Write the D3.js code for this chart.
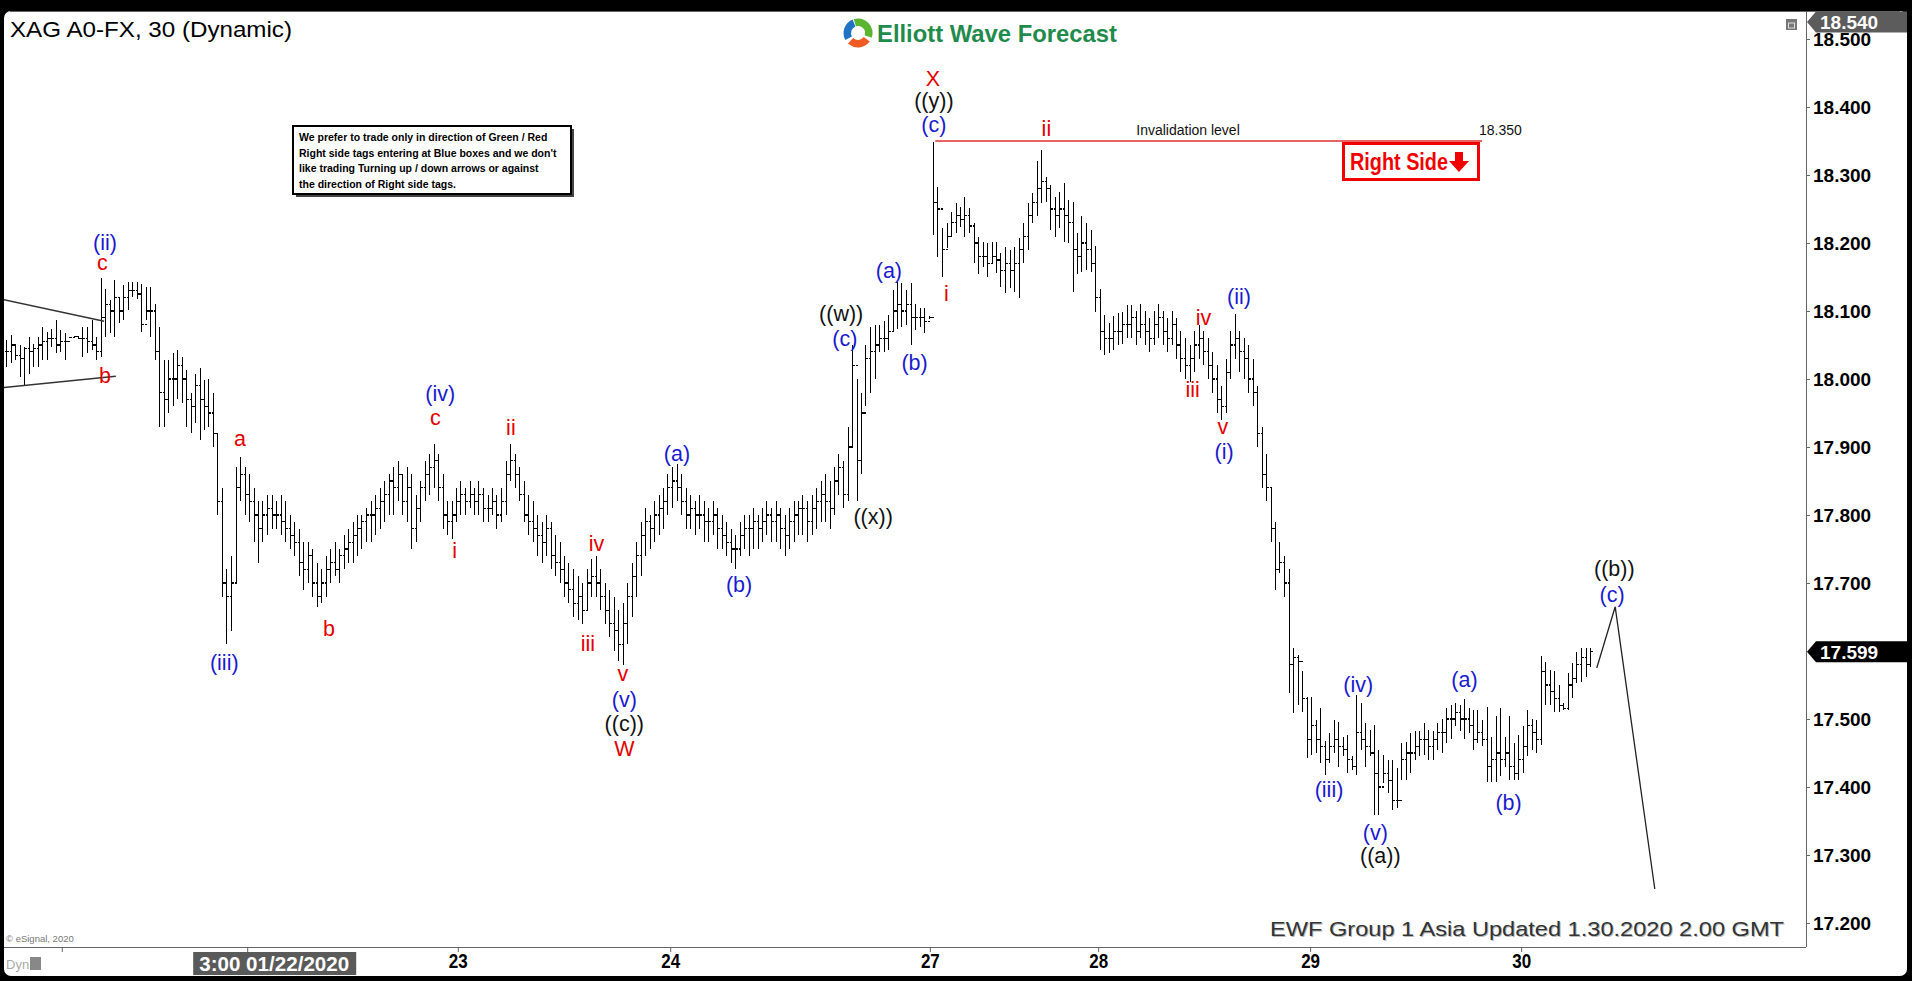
<!DOCTYPE html>
<html><head><meta charset="utf-8">
<script src="https://cdn.jsdelivr.net/npm/d3@7"></script>
<style>
html,body{margin:0;padding:0;background:#000;overflow:hidden}
svg{display:block}
text{font-family:"Liberation Sans",Arial,sans-serif}
</style></head><body>
<svg id="chart" width="1912" height="981"></svg>
<script>
// ---------------- DATA ----------------
const title = "XAG A0-FX, 30 (Dynamic)";
const footer = "EWF Group 1 Asia Updated 1.30.2020 2.00 GMT";
const noteLines = ["We prefer to trade only in direction of Green / Red",
  "Right side tags entering at Blue boxes and we don't",
  "like trading Turning up / down arrows or against",
  " the direction of Right side tags."];
// 17.600 sits under the last-price tag and is not shown
const priceTicks = [17.2,17.3,17.4,17.5,17.7,17.8,17.9,18.0,18.1,18.2,18.3,18.4,18.5];
const dayTickIdx = [12.4, 53.6, 100.4, 147.6, 205.3, 242.7, 289.8, 336.7];
const dayTickLabels = ["", "", "23", "24", "27", "28", "29", "30"];
const cursorLabel = "3:00 01/22/2020";
const lastPrice = 17.599;
const topPrice = 18.540;
const invalidation = 18.350;

const highs = [
18.057,18.064,18.052,18.050,18.047,18.062,18.052,18.062,18.077,18.069,
18.074,18.087,18.072,18.067,18.062,18.063,18.063,18.077,18.077,18.087,
18.062,18.148,18.133,18.116,18.145,18.121,18.138,18.143,18.143,18.143,
18.140,18.136,18.136,18.111,18.077,18.028,18.028,18.038,18.043,18.033,
18.013,17.979,18.008,18.016,17.998,18.000,17.98,17.92,17.84,17.72,
17.74,17.87,17.885,17.87,17.86,17.84,17.82,17.82,17.83,17.83,
17.82,17.83,17.82,17.80,17.79,17.78,17.76,17.76,17.75,17.73,
17.72,17.74,17.75,17.76,17.75,17.77,17.78,17.79,17.80,17.80,
17.81,17.82,17.83,17.84,17.85,17.86,17.87,17.88,17.86,17.87,
17.86,17.83,17.85,17.88,17.89,17.905,17.89,17.86,17.82,17.82,
17.84,17.85,17.84,17.85,17.84,17.85,17.84,17.83,17.84,17.83,
17.84,17.88,17.905,17.89,17.87,17.85,17.83,17.82,17.80,17.79,
17.80,17.79,17.77,17.76,17.74,17.73,17.72,17.71,17.70,17.72,
17.735,17.74,17.72,17.70,17.69,17.68,17.66,17.67,17.70,17.73,
17.76,17.79,17.81,17.80,17.82,17.83,17.84,17.86,17.87,17.875,
17.86,17.84,17.83,17.82,17.83,17.82,17.81,17.82,17.81,17.80,
17.79,17.78,17.77,17.79,17.80,17.80,17.81,17.80,17.81,17.82,
17.81,17.82,17.81,17.80,17.81,17.82,17.82,17.83,17.82,17.83,
17.84,17.85,17.86,17.85,17.87,17.89,17.88,17.93,18.05,18.00,
17.98,18.05,18.077,18.08,18.08,18.085,18.094,18.131,18.143,18.141,
18.131,18.141,18.111,18.104,18.104,18.092,18.349,18.283,18.222,18.229,
18.246,18.259,18.253,18.268,18.251,18.229,18.209,18.202,18.20,18.202,
18.202,18.185,18.194,18.19,18.194,18.207,18.229,18.259,18.273,18.32,
18.337,18.297,18.285,18.268,18.275,18.288,18.263,18.261,18.215,18.239,
18.229,18.219,18.195,18.133,18.094,18.082,18.092,18.097,18.099,18.109,
18.109,18.10,18.11,18.10,18.09,18.10,18.11,18.10,18.09,18.10,
18.09,18.07,18.06,18.05,18.07,18.08,18.07,18.06,18.04,18.02,
17.99,18.03,18.07,18.095,18.07,18.06,18.05,18.03,17.99,17.93,
17.89,17.84,17.79,17.76,17.74,17.72,17.604,17.594,17.57,17.533,
17.533,17.499,17.516,17.467,17.479,17.499,17.496,17.474,17.477,17.445,
17.535,17.523,17.494,17.484,17.491,17.455,17.447,17.44,17.44,17.428,
17.464,17.466,17.479,17.482,17.482,17.494,17.484,17.482,17.494,17.50,
17.516,17.521,17.523,17.521,17.53,17.516,17.513,17.513,17.499,17.518,
17.474,17.504,17.516,17.474,17.504,17.465,17.477,17.489,17.513,17.50,
17.499,17.592,17.584,17.572,17.57,17.55,17.523,17.567,17.582,17.599,
17.604,17.604,17.604];
const lows = [
18.018,18.023,18.028,18.003,17.989,18.008,18.018,18.018,18.028,18.028,
18.047,18.038,18.040,18.028,18.060,18.061,18.059,18.033,18.038,18.042,
18.028,18.033,18.062,18.067,18.062,18.082,18.087,18.101,18.121,18.118,
18.069,18.087,18.062,18.028,17.930,17.930,17.950,17.960,17.970,17.965,
17.930,17.920,17.935,17.910,17.925,17.930,17.90,17.80,17.68,17.61,
17.63,17.70,17.82,17.80,17.79,17.76,17.73,17.76,17.77,17.78,
17.78,17.77,17.76,17.75,17.74,17.71,17.69,17.70,17.68,17.665,
17.67,17.68,17.70,17.71,17.70,17.72,17.73,17.73,17.74,17.75,
17.76,17.76,17.77,17.78,17.79,17.80,17.80,17.82,17.80,17.79,
17.75,17.76,17.79,17.82,17.83,17.84,17.82,17.78,17.77,17.765,
17.79,17.80,17.80,17.81,17.80,17.80,17.79,17.79,17.80,17.78,
17.79,17.80,17.85,17.84,17.82,17.79,17.77,17.76,17.74,17.73,
17.74,17.72,17.71,17.70,17.68,17.67,17.65,17.645,17.64,17.66,
17.68,17.68,17.66,17.64,17.62,17.60,17.585,17.58,17.61,17.65,
17.68,17.71,17.74,17.75,17.76,17.77,17.78,17.80,17.81,17.82,
17.80,17.78,17.78,17.77,17.78,17.76,17.76,17.77,17.75,17.75,
17.74,17.73,17.72,17.74,17.75,17.74,17.75,17.75,17.76,17.77,
17.76,17.76,17.75,17.74,17.75,17.76,17.77,17.77,17.76,17.77,
17.78,17.79,17.79,17.78,17.80,17.83,17.81,17.82,17.90,17.82,
17.86,17.96,17.98,18.00,18.04,18.04,18.043,18.07,18.074,18.077,
18.08,18.05,18.072,18.077,18.067,18.088,18.212,18.180,18.150,18.193,
18.209,18.215,18.224,18.209,18.214,18.171,18.155,18.165,18.15,18.17,
18.156,18.136,18.126,18.134,18.128,18.119,18.171,18.190,18.229,18.239,
18.259,18.261,18.219,18.209,18.222,18.202,18.20,18.128,18.155,18.158,
18.16,18.158,18.099,18.043,18.035,18.038,18.043,18.05,18.052,18.06,
18.06,18.05,18.06,18.05,18.04,18.05,18.06,18.05,18.04,18.05,
18.03,18.01,18.00,17.995,18.01,18.03,18.02,18.00,17.98,17.95,
17.94,17.95,18.00,18.03,18.01,18.00,17.98,17.96,17.90,17.84,
17.82,17.76,17.69,17.715,17.68,17.538,17.509,17.52,17.51,17.443,
17.447,17.45,17.435,17.418,17.435,17.45,17.43,17.445,17.421,17.425,
17.418,17.455,17.43,17.445,17.359,17.359,17.406,17.391,17.366,17.369,
17.411,17.411,17.421,17.44,17.445,17.447,17.44,17.44,17.455,17.45,
17.465,17.47,17.489,17.482,17.47,17.48,17.455,17.465,17.46,17.408,
17.408,17.408,17.416,17.43,17.411,17.411,17.411,17.421,17.445,17.455,
17.45,17.462,17.521,17.521,17.511,17.511,17.513,17.513,17.531,17.553,
17.555,17.562,17.577];
const closes = [
18.04,18.05,18.035,18.03,18.045,18.04,18.045,18.05,18.055,18.06,
18.06,18.05,18.055,18.055,18.061,18.062,18.06,18.06,18.055,18.05,
18.04,18.09,18.11,18.10,18.12,18.10,18.12,18.13,18.13,18.125,
18.08,18.10,18.10,18.04,17.98,17.97,18.00,18.00,18.02,18.00,
17.97,17.96,17.99,17.97,17.96,17.95,17.92,17.82,17.70,17.68,
17.70,17.84,17.86,17.83,17.82,17.80,17.78,17.80,17.81,17.80,
17.80,17.79,17.78,17.77,17.76,17.73,17.72,17.74,17.70,17.68,
17.70,17.72,17.73,17.72,17.74,17.75,17.76,17.77,17.78,17.79,
17.80,17.80,17.81,17.82,17.83,17.85,17.84,17.86,17.82,17.84,
17.78,17.81,17.84,17.86,17.87,17.88,17.84,17.80,17.79,17.80,
17.82,17.83,17.82,17.83,17.82,17.83,17.81,17.81,17.82,17.80,
17.82,17.86,17.88,17.86,17.83,17.80,17.79,17.78,17.77,17.76,
17.78,17.74,17.73,17.72,17.70,17.69,17.67,17.68,17.66,17.70,
17.71,17.70,17.68,17.66,17.64,17.63,17.61,17.64,17.68,17.71,
17.74,17.77,17.79,17.78,17.80,17.81,17.82,17.84,17.85,17.84,
17.82,17.80,17.81,17.80,17.80,17.79,17.79,17.80,17.78,17.77,
17.76,17.75,17.75,17.77,17.78,17.78,17.79,17.78,17.79,17.80,
17.79,17.80,17.78,17.77,17.79,17.80,17.81,17.81,17.79,17.81,
17.82,17.83,17.82,17.81,17.85,17.87,17.83,17.90,18.02,17.88,
17.95,18.03,18.04,18.05,18.06,18.06,18.07,18.10,18.11,18.10,
18.11,18.09,18.09,18.09,18.085,18.09,18.26,18.25,18.19,18.21,
18.23,18.24,18.235,18.24,18.225,18.20,18.18,18.18,18.17,18.18,
18.175,18.16,18.17,18.16,18.17,18.19,18.21,18.24,18.26,18.28,
18.29,18.28,18.25,18.24,18.25,18.24,18.23,18.19,18.18,18.20,
18.19,18.17,18.12,18.07,18.06,18.06,18.07,18.07,18.08,18.08,
18.09,18.07,18.08,18.07,18.06,18.08,18.09,18.07,18.06,18.08,
18.05,18.03,18.02,18.03,18.05,18.06,18.04,18.02,18.00,17.97,
17.96,18.01,18.05,18.06,18.04,18.03,18.00,17.98,17.92,17.86,
17.84,17.78,17.72,17.73,17.70,17.58,17.59,17.585,17.53,17.47,
17.49,17.47,17.46,17.44,17.46,17.47,17.46,17.455,17.44,17.43,
17.48,17.47,17.46,17.45,17.42,17.40,17.42,17.41,17.38,17.38,
17.44,17.45,17.45,17.46,17.47,17.47,17.46,17.47,17.48,17.48,
17.50,17.50,17.51,17.50,17.50,17.49,17.47,17.48,17.47,17.43,
17.44,17.45,17.44,17.45,17.43,17.42,17.44,17.46,17.49,17.48,
17.47,17.57,17.55,17.54,17.53,17.52,17.515,17.55,17.56,17.58,
17.59,17.58,17.599];

// projection path (bar index, price)
const projIdx = [353.5, 357.6, 366.4];
const projPrice = [17.575, 17.665, 17.25];

// triangle trend lines (bar index, price)
const trendLines = [
  {i0:-1.4, p0:18.118, i1:21.8, p1:18.085},
  {i0:-1.4, p0:17.987, i1:24.4, p1:18.004}
];
const invalidFromIdx = 206.5, invalidToIdx = 328;

// wave labels: text, colour key, bar index, price
const waveText  = ["(ii)","c","b","a","(iii)","b","(iv)","c","i","ii","iv","iii","v","(v)","((c))","W",
  "(a)","(b)","((w))","(c)","((x))","(a)","(b)","X","((y))","(c)","i","ii","iv","iii","v","(i)","(ii)",
  "(iii)","(iv)","(v)","((a))","(a)","(b)","((b))","(c)"];
const waveColor = ["B","R","R","R","B","R","B","R","R","R","R","R","R","B","K","R",
  "B","B","K","B","K","B","B","R","K","B","R","R","R","R","R","B","B",
  "B","B","B","K","B","B","K","B"];
const waveIdx   = [21.98,21.4,22,52,48.5,71.8,96.5,95.4,99.7,112.2,131.2,129.3,137.1,137.4,137.4,137.4,
  149.1,162.9,185.6,186.4,192.7,196.2,201.9,206,206.2,206.2,209,231.2,266.1,263.7,270.4,270.7,274,
  294,300.5,304.3,305.4,324.1,333.9,357.4,356.9];
const wavePrice = [18.200,18.170,18.005,17.912,17.582,17.632,17.978,17.942,17.747,17.928,17.758,17.610,17.566,17.528,17.492,17.456,
  17.890,17.697,18.095,18.059,17.797,18.159,18.023,18.441,18.409,18.373,18.125,18.367,18.089,17.984,17.929,17.892,18.120,
  17.395,17.550,17.333,17.299,17.557,17.376,17.720,17.682];

// ---------------- DRAW ----------------
const colorMap = {B:"#1a1ad0", R:"#e40000", K:"#111111"};
const svg = d3.select("#chart");
const W = 1912, H = 981;
const plotL = 4, plotR = 1806, plotT = 12, plotB = 947;

svg.append("rect").attr("width",W).attr("height",H).attr("fill","#000");
svg.append("rect").attr("x",4).attr("y",11).attr("width",1903).attr("height",965)
  .attr("rx",7).attr("fill","#fff");
svg.append("line").attr("x1",10).attr("x2",1900).attr("y1",11.5).attr("y2",11.5).attr("stroke","#666");

const N = highs.length;
const x = d3.scaleLinear().domain([0, N-1]).range([6, 1590]);
const y = d3.scaleLinear().domain([17.2, 18.5]).range([923, 39]);

svg.append("defs").append("clipPath").attr("id","plotclip")
  .append("rect").attr("x",plotL).attr("y",plotT).attr("width",plotR-plotL).attr("height",plotB-plotT);
const plot = svg.append("g").attr("clip-path","url(#plotclip)");

// bars
const bars = d3.range(N).map(i => ({i, h:highs[i], l:lows[i], c:closes[i], o: i>0?closes[i-1]:closes[i]}));
const bg = plot.append("g").attr("stroke","#000").attr("stroke-width",1.3).attr("shape-rendering","crispEdges");
bg.selectAll("path.bar").data(bars).enter().append("path")
  .attr("d", d => {
    const cx = Math.round(x(d.i)) + 0.5;
    return `M${cx},${y(d.h)}V${y(d.l)}M${cx-2},${y(d.o)}H${cx}M${cx},${y(d.c)}H${cx+2.5}`;
  });

// triangle lines
plot.selectAll("line.tri").data(trendLines).enter().append("line")
  .attr("x1",d=>x(d.i0)).attr("y1",d=>y(d.p0)).attr("x2",d=>x(d.i1)).attr("y2",d=>y(d.p1))
  .attr("stroke","#333").attr("stroke-width",1.5);

// invalidation line
plot.append("line").attr("x1",x(invalidFromIdx)).attr("x2",x(invalidToIdx))
  .attr("y1",y(invalidation)).attr("y2",y(invalidation)).attr("stroke","#e03030").attr("stroke-width",1.3);
plot.append("text").attr("x",x(invalidFromIdx)+201).attr("y",y(invalidation)-6)
  .attr("font-size",14).attr("fill","#111").text("Invalidation level");
plot.append("text").attr("x",x(invalidToIdx)-3).attr("y",y(invalidation)-6)
  .attr("font-size",14).attr("fill","#111").text(invalidation.toFixed(3));

// projection
const proj = projIdx.map((v,k)=>[x(v), y(projPrice[k])]);
plot.append("path").attr("d", d3.line()(proj)).attr("fill","none").attr("stroke","#222").attr("stroke-width",1.3);

// wave labels
plot.selectAll("text.wave").data(waveText.map((t,k)=>({t, c:colorMap[waveColor[k]], i:waveIdx[k], p:wavePrice[k]})))
  .enter().append("text").attr("class","wave")
  .attr("x",d=>x(d.i)).attr("y",d=>y(d.p)).attr("text-anchor","middle").attr("dominant-baseline","central")
  .attr("font-size",21.5).attr("fill",d=>d.c).text(d=>d.t);

// Right Side box
const rs = plot.append("g").attr("transform",`translate(${x(invalidToIdx)-140},${y(invalidation)+1})`);
rs.append("rect").attr("x",1.5).attr("y",1.5).attr("width",135).attr("height",36).attr("fill","#fff")
  .attr("stroke","#f00000").attr("stroke-width",3);
rs.append("text").attr("x",8).attr("y",28).attr("font-size",23).attr("font-weight","bold").attr("fill","#f00000")
  .attr("textLength",98).attr("lengthAdjust","spacingAndGlyphs").text("Right Side");
rs.append("path").attr("d","M113,10h8v9h6l-10,11l-10,-11h6z").attr("fill","#f00000");

// note box
const nb = svg.append("g").attr("transform","translate(293,126)");
nb.append("rect").attr("x",3).attr("y",3).attr("width",278).attr("height",68).attr("fill","#444");
nb.append("rect").attr("x",0).attr("y",0).attr("width",278).attr("height",68).attr("fill","#fff")
  .attr("stroke","#000").attr("stroke-width",2);
nb.selectAll("text").data(noteLines).enter().append("text")
  .attr("x",6).attr("y",(d,k)=>15+k*15.5).attr("font-size",10.5).attr("font-weight","bold").attr("fill","#000")
  .text(d=>d);

// title
svg.append("text").attr("x",10).attr("y",37).attr("font-size",22.5).attr("fill","#000")
  .attr("textLength",282).attr("lengthAdjust","spacingAndGlyphs").text(title);

// logo
const logo = svg.append("g").attr("transform","translate(858,33)");
const arc = d3.arc().innerRadius(7).outerRadius(14.5);
[[ -0.3, 1.9, "#5cb531"],[2.2, 3.9, "#f05a23"],[4.2, 5.9, "#1f73c4"]].forEach(a=>{
  logo.append("path").attr("d",arc({startAngle:a[0],endAngle:a[1]})).attr("fill",a[2]);
});
svg.append("text").attr("x",877).attr("y",42).attr("font-size",24).attr("font-weight","bold")
  .attr("fill","#1f8b4c").attr("textLength",240).attr("lengthAdjust","spacingAndGlyphs").text("Elliott Wave Forecast");

// footer
svg.append("text").attr("x",1271).attr("y",937).attr("font-size",21).attr("fill","#bbb")
  .attr("textLength",514).attr("lengthAdjust","spacingAndGlyphs").text(footer);
svg.append("text").attr("x",1270).attr("y",936).attr("font-size",21).attr("fill","#333")
  .attr("textLength",514).attr("lengthAdjust","spacingAndGlyphs").text(footer);
svg.append("text").attr("x",6).attr("y",942).attr("font-size",9.5).attr("fill","#777").text("© eSignal, 2020");

// price axis
svg.append("line").attr("x1",plotR+0.5).attr("x2",plotR+0.5).attr("y1",plotT).attr("y2",plotB)
  .attr("stroke","#666").attr("stroke-width",1);
const yAxis = svg.append("g").attr("transform",`translate(${plotR},0)`)
  .call(d3.axisRight(y).tickValues(priceTicks).tickFormat(d3.format(".3f")).tickSize(4).tickPadding(3));
yAxis.select(".domain").remove();
yAxis.selectAll("text").attr("font-size",19).attr("font-weight","bold").attr("fill","#000")
  .attr("font-family","Liberation Sans, Arial, sans-serif");
yAxis.selectAll("line").attr("stroke","#666");

// price tags
function priceTag(p, bgc, yy){
  const g = svg.append("g").attr("transform",`translate(${plotR+1},${yy})`);
  g.append("path").attr("d","M0,0L9,-10.5H100V10.5H9Z").attr("fill",bgc);
  g.append("text").attr("x",13).attr("y",7).attr("font-size",19).attr("font-weight","bold")
    .attr("fill","#fff").text(p.toFixed(3));
}
priceTag(lastPrice, "#000", y(lastPrice));
priceTag(topPrice, "#5c5c5c", 22);
svg.append("rect").attr("x",1786).attr("y",19).attr("width",11).attr("height",11).attr("fill","#777");
svg.append("rect").attr("x",1788.5).attr("y",23).attr("width",6).attr("height",5).attr("fill","none").attr("stroke","#ddd");

// x axis
svg.append("line").attr("x1",plotL).attr("x2",plotR).attr("y1",plotB+0.5).attr("y2",plotB+0.5).attr("stroke","#666");
const xAxis = svg.append("g").attr("transform",`translate(0,${plotB})`)
  .call(d3.axisBottom(x).tickValues(dayTickIdx).tickFormat((d,k)=>dayTickLabels[k]).tickSize(5).tickPadding(2));
xAxis.select(".domain").remove();
xAxis.selectAll("line").attr("stroke","#666");
xAxis.selectAll("text").attr("font-size",20).attr("font-weight","bold").attr("fill","#000")
  .attr("font-family","Liberation Sans Narrow, Liberation Sans, Arial, sans-serif")
  .attr("transform","scale(0.85,1)").attr("dy","0.71em");
// cursor date box
const cx0 = x(dayTickIdx[1]);
svg.append("rect").attr("x",cx0-54).attr("y",952).attr("width",163).attr("height",23).attr("fill","#5a5a5a");
svg.append("text").attr("x",cx0+27).attr("y",971).attr("text-anchor","middle").attr("font-size",21)
  .attr("font-weight","bold").attr("fill","#fff")
  .attr("textLength",150).attr("lengthAdjust","spacingAndGlyphs").text(cursorLabel);
svg.append("text").attr("x",6).attr("y",969).attr("font-size",13).attr("fill","#aaa").text("Dyn");
svg.append("rect").attr("x",30).attr("y",957).attr("width",11).attr("height",13).attr("fill","#888");
</script></body></html>
